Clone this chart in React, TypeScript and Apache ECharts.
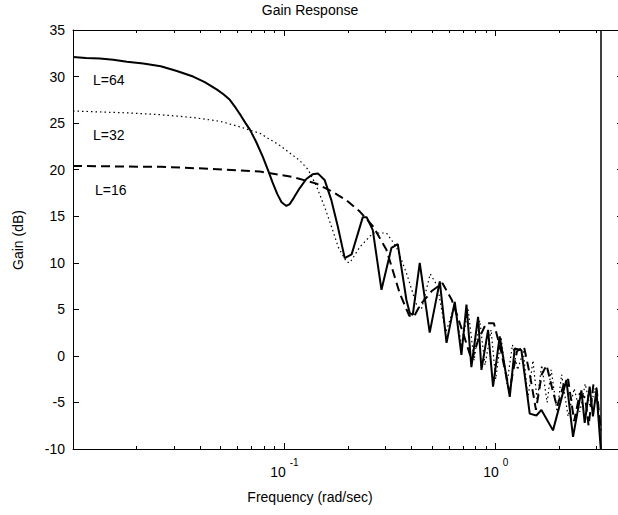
import React, { useEffect, useRef } from "react";
import * as echarts from "echarts";

// ---- data ----
const freqL64 = [0.01, 0.0115, 0.0134, 0.0155, 0.018, 0.0215, 0.026, 0.031, 0.037, 0.042, 0.048, 0.0515, 0.0552, 0.059, 0.0623, 0.0655, 0.0687, 0.0735, 0.079, 0.0835, 0.088, 0.0925, 0.097, 0.1022, 0.106, 0.111, 0.118, 0.127, 0.136, 0.144, 0.155, 0.167, 0.179, 0.193, 0.208, 0.235, 0.245, 0.262, 0.288, 0.321, 0.344, 0.378, 0.392, 0.405, 0.437, 0.487, 0.5435, 0.585, 0.64, 0.688, 0.727, 0.767, 0.825, 0.856, 0.92, 0.971, 1.044, 1.165, 1.23, 1.323, 1.448, 1.557, 1.645, 1.866, 2.159, 2.321, 2.543, 2.635, 2.782, 2.884, 2.993, 3.14];
const gainL64 = [32.1, 32.0, 31.95, 31.8, 31.6, 31.4, 31.1, 30.6, 30.0, 29.4, 28.6, 28.1, 27.5, 26.6, 25.8, 25.0, 24.3, 23.0, 21.4, 20.0, 18.6, 17.4, 16.5, 16.1, 16.3, 17.0, 18.0, 19.0, 19.5, 19.6, 18.9, 16.7, 13.9, 10.5, 10.9, 14.9, 14.9, 13.5, 7.1, 11.6, 12.0, 6.0, 4.6, 4.4, 10.0, 2.5, 8.0, 1.4, 5.8, 0.1, 5.5, -1.2, 4.2, -1.5, 2.8, -3.3, 2.1, -4.4, 0.8, 0.6, -6.2, -6.4, -5.8, -8.0, -2.6, -8.7, -3.7, -7.2, -3.3, -6.5, -3.7, -10];

const freqL32 = [0.01, 0.018, 0.026, 0.037, 0.0495, 0.0616, 0.0766, 0.0952, 0.118, 0.1296, 0.142, 0.155, 0.167, 0.1797, 0.1968, 0.2041, 0.2275, 0.263, 0.304, 0.339, 0.378, 0.422, 0.445, 0.49, 0.53, 0.58, 0.64, 0.69, 0.74, 0.79, 0.84, 0.89, 0.95, 1.0, 1.06, 1.13, 1.2, 1.27, 1.35, 1.42, 1.5, 1.57, 1.65, 1.75, 1.83, 1.95, 2.05, 2.2, 2.35, 2.5, 2.65, 2.8, 2.95, 3.14];
const gainL32 = [26.3, 26.1, 25.9, 25.6, 25.2, 24.6, 23.9, 22.6, 21.0, 20.0, 18.2, 16.0, 13.9, 11.7, 10.1, 10.0, 11.7, 13.2, 13.2, 11.7, 8.9, 5.5, 5.0, 8.8, 7.5, 2.5, 5.5, 1.0, 5.0, -0.5, 3.8, -1.0, 2.8, -2.5, 2.0, -3.0, 1.2, -1.5, 0.5, -4.5, -0.5, -4.8, -1.0, -5.0, -1.5, -6.0, -2.0, -6.5, -3.5, -6.0, -3.0, -5.5, -3.5, -7.5];

const freqL16 = [0.01, 0.026, 0.0444, 0.0766, 0.11, 0.142, 0.17, 0.197, 0.2275, 0.263, 0.304, 0.3516, 0.39, 0.41, 0.44, 0.5, 0.56, 0.62, 0.7, 0.77, 0.82, 0.9, 0.98, 1.06, 1.16, 1.26, 1.36, 1.45, 1.55, 1.65, 1.74, 1.85, 1.95, 2.1, 2.2, 2.35, 2.5, 2.65, 2.75, 2.9, 3.0, 3.14];
const gainL16 = [20.4, 20.3, 20.1, 19.8, 19.2, 18.5, 17.6, 16.7, 15.5, 13.9, 11.4, 6.7, 4.3, 4.2, 5.5, 7.0, 7.8, 6.0, 2.5, -0.5, 1.5, 3.5, 3.5, 0.5, -3.8, 0.5, 1.0, -2.0, -5.8, -2.0, -1.0, -3.5, -5.5, -3.0, -2.5, -7.0, -4.0, -4.5, -7.5, -3.0, -3.5, -8.0];

const curveLabels = ["L=64", "L=32", "L=16"];
const labelFreq = [0.01243, 0.01243, 0.01272];
const labelGain = [29.6, 23.7, 17.8];

const majorTicks = [0.1, 1];
const minorTicks = [0.02, 0.03, 0.04, 0.05, 0.06, 0.07, 0.08, 0.09, 0.2, 0.3, 0.4, 0.5, 0.6, 0.7, 0.8, 0.9, 2, 3];
const nyquist = [Math.PI];

const FONT = "Liberation Sans, Arial, Helvetica, sans-serif";

const pairs = (xs: number[], ys: number[]) => xs.map((x, i) => [x, ys[i]]);

export default function App() {
  const ref = useRef<HTMLDivElement>(null);
  useEffect(() => {
    if (!ref.current) return;
    const chart = echarts.init(ref.current, null, { renderer: "svg" });
    const baseX = {
      type: "log" as const,
      logBase: 10,
      min: 0.01,
      max: 4,
      splitLine: { show: false },
    };
    const option: any = {
      animation: false,
      backgroundColor: "#fff",
      grid: { left: 73, top: 30, right: -5, bottom: 66, containLabel: false, outerBoundsMode: "none" },
      xAxis: [
        {
          ...baseX,
          position: "bottom",
          axisLine: { show: true, onZero: false, lineStyle: { color: "#000", width: 1 } },
          axisTick: { show: true, inside: true, length: 6, customValues: majorTicks, lineStyle: { color: "#000" } },
          axisLabel: {
            show: true,
            customValues: majorTicks,
            margin: 8,
            formatter: (v: number) => "{b|10}{s|" + Math.round(Math.log10(v)) + "}",
            rich: {
              b: { fontSize: 14, fontFamily: FONT, color: "#000", lineHeight: 22, verticalAlign: "bottom" },
              s: { fontSize: 10, fontFamily: FONT, color: "#000", lineHeight: 22, verticalAlign: "top", padding: [0, 0, 0, 4] },
            },
          },
        },
        {
          ...baseX,
          position: "bottom",
          axisLine: { show: false, onZero: false },
          axisTick: { show: true, inside: true, length: 3, customValues: minorTicks, lineStyle: { color: "#000" } },
          axisLabel: { show: false },
        },
        {
          ...baseX,
          position: "top",
          axisLine: { show: true, onZero: false, lineStyle: { color: "#000", width: 1 } },
          axisTick: { show: true, inside: true, length: 6, customValues: majorTicks, lineStyle: { color: "#000" } },
          axisLabel: { show: false },
        },
        {
          ...baseX,
          position: "top",
          axisLine: { show: false, onZero: false },
          axisTick: { show: true, inside: true, length: 3, customValues: minorTicks, lineStyle: { color: "#000" } },
          axisLabel: { show: false },
        },
      ],
      yAxis: [
        {
          type: "value",
          min: -10,
          max: 35,
          interval: 5,
          position: "left",
          splitLine: { show: false },
          axisLine: { show: true, onZero: false, lineStyle: { color: "#000", width: 1 } },
          axisTick: { show: true, inside: true, length: 6, lineStyle: { color: "#000" } },
          axisLabel: { show: true, margin: 8, fontSize: 14, fontFamily: FONT, color: "#000" },
        },
        {
          type: "value",
          min: -10,
          max: 35,
          interval: 5,
          position: "right",
          splitLine: { show: false },
          axisLine: { show: true, onZero: false, lineStyle: { color: "#000", width: 1 } },
          axisTick: { show: true, inside: true, length: 6, lineStyle: { color: "#000" } },
          axisLabel: { show: false },
        },
      ],
      series: [
        {
          name: "L=64",
          type: "line",
          data: pairs(freqL64, gainL64),
          showSymbol: false,
          symbol: "none",
          lineStyle: { color: "#000", width: 2, type: "solid" },
          markLine: {
            silent: true,
            symbol: "none",
            label: { show: false },
            lineStyle: { color: "#000", width: 1.5, type: "solid" },
            data: nyquist.map((v) => ({ xAxis: v })),
          },
        },
        {
          name: "L=32",
          type: "line",
          data: pairs(freqL32, gainL32),
          showSymbol: false,
          symbol: "none",
          lineStyle: { color: "#000", width: 1.2, type: [1.5, 3] },
        },
        {
          name: "L=16",
          type: "line",
          data: pairs(freqL16, gainL16),
          showSymbol: false,
          symbol: "none",
          lineStyle: { color: "#000", width: 2, type: [9, 5] },
        },
      ],
    };
    chart.setOption(option);

    const texts: any[] = curveLabels.map((t, i) => {
      const p = chart.convertToPixel({ xAxisIndex: 0, yAxisIndex: 0 }, [labelFreq[i], labelGain[i]]) as number[];
      return {
        type: "text",
        x: p[0],
        y: p[1],
        style: { text: t, fontSize: 14, fontFamily: FONT, fill: "#000", textAlign: "left", textVerticalAlign: "middle" },
      };
    });
    texts.push({
      type: "text",
      x: 310,
      y: 10,
      style: { text: "Gain Response", fontSize: 14, fontFamily: FONT, fill: "#000", textAlign: "center", textVerticalAlign: "middle" },
    });
    texts.push({
      type: "text",
      x: 310,
      y: 497,
      style: { text: "Frequency (rad/sec)", fontSize: 14, fontFamily: FONT, fill: "#000", textAlign: "center", textVerticalAlign: "middle" },
    });
    texts.push({
      type: "text",
      x: 18,
      y: 240,
      rotation: Math.PI / 2,
      style: { text: "Gain (dB)", fontSize: 14, fontFamily: FONT, fill: "#000", textAlign: "center", textVerticalAlign: "middle" },
    });
    chart.setOption({ graphic: texts });

    return () => chart.dispose();
  }, []);
  return (
    <div
      ref={ref}
      style={{ position: "fixed", left: 0, top: 0, width: 618, height: 515, background: "#fff" }}
    />
  );
}
